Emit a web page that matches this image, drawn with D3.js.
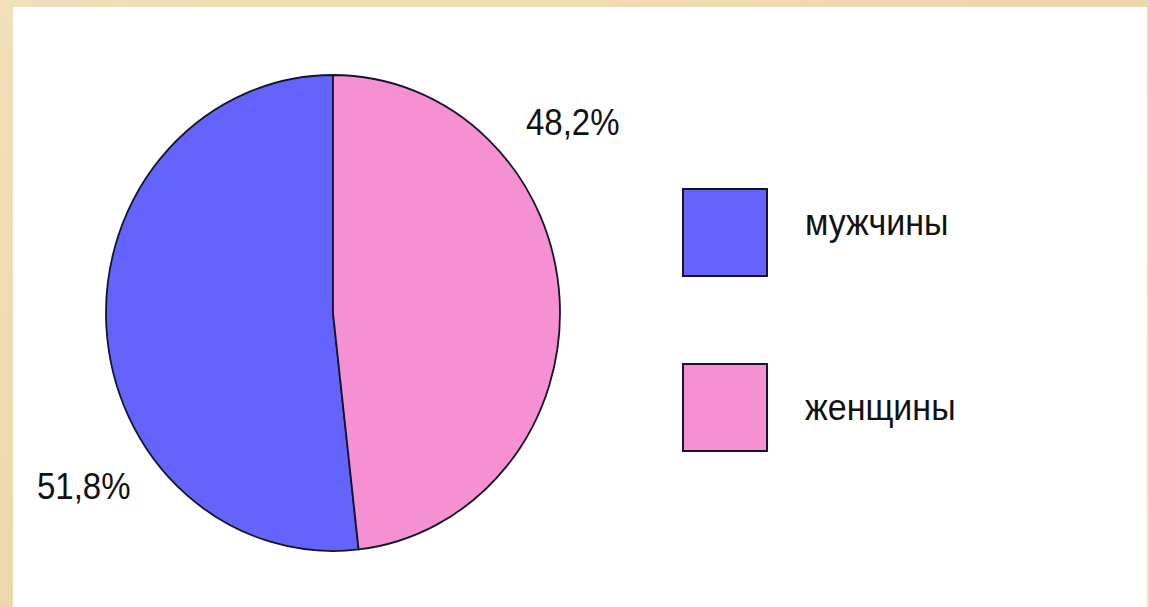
<!DOCTYPE html>
<html><head><meta charset="utf-8">
<script src="https://cdn.jsdelivr.net/npm/d3@7"></script>
<style>html,body{margin:0;padding:0;background:#f0dcb6;}svg{display:block;}</style>
</head><body>
<svg id="c" width="1149" height="607"></svg>
<script>
const categories = ["мужчины", "женщины"];
const values = [51.8, 48.2];
const labels = ["51,8%", "48,2%"];
const colors = ["#6464fc", "#f590d2"];

const svg = d3.select("#c");
const defs = svg.append("defs");
const g1 = defs.append("linearGradient").attr("id","bg").attr("x1","0").attr("y1","0").attr("x2","1").attr("y2","1");
g1.append("stop").attr("offset","0").attr("stop-color","#f2dfbb");
g1.append("stop").attr("offset","0.5").attr("stop-color","#edd7ad");
g1.append("stop").attr("offset","1").attr("stop-color","#f3e0bd");
svg.append("rect").attr("width",1149).attr("height",607).attr("fill","url(#bg)");
svg.append("rect").attr("x",13).attr("y",7).attr("width",1134).attr("height",600).attr("fill","#ffffff");

const cx = 333, cy = 313, ry = 238, rx = 227;
const pie = d3.pie().sort(null).startAngle(0).endAngle(-2*Math.PI);
const arc = d3.arc().innerRadius(0).outerRadius(ry);
const pg = svg.append("g").attr("transform", `translate(${cx},${cy}) scale(${rx/ry},1)`);
pg.selectAll("path").data(pie(values)).join("path")
  .attr("d", arc)
  .attr("fill", (d,i) => colors[i])
  .attr("stroke", "#14142a")
  .attr("stroke-width", 1.8)
  .attr("vector-effect", "non-scaling-stroke");

const font = "'Liberation Sans', Arial, sans-serif";
// percentage labels
const labelPos = [[37, 499], [526, 135]];
svg.selectAll("text.pct").data(labels).join("text")
  .attr("class","pct")
  .attr("transform", (d,i) => `translate(${labelPos[i][0]},${labelPos[i][1]}) scale(1,1.1)`)
  .attr("font-family", font).attr("font-size", 33).attr("fill", "#111")
  .text(d => d);

// legend
const legend = d3.scaleBand().domain(categories).range([189, 451]).paddingInner(0.98/ (1)).paddingOuter(0);
const ly = d3.scalePoint().domain(categories).range([189, 364]);
const lg = svg.selectAll("g.leg").data(categories).join("g").attr("class","leg")
  .attr("transform", d => `translate(683,${ly(d)})`);
lg.append("rect").attr("width", 84).attr("height", 87)
  .attr("fill", (d,i) => colors[i]).attr("stroke", "#1a1228").attr("stroke-width", 2);
lg.append("text").attr("x", 122).attr("y", (d,i) => i === 0 ? 43 : 52)
  .attr("transform", "scale(1,1.08)")
  .attr("font-family", font).attr("font-size", 34).attr("fill", "#111")
  .text(d => d);
</script>
</body></html>
